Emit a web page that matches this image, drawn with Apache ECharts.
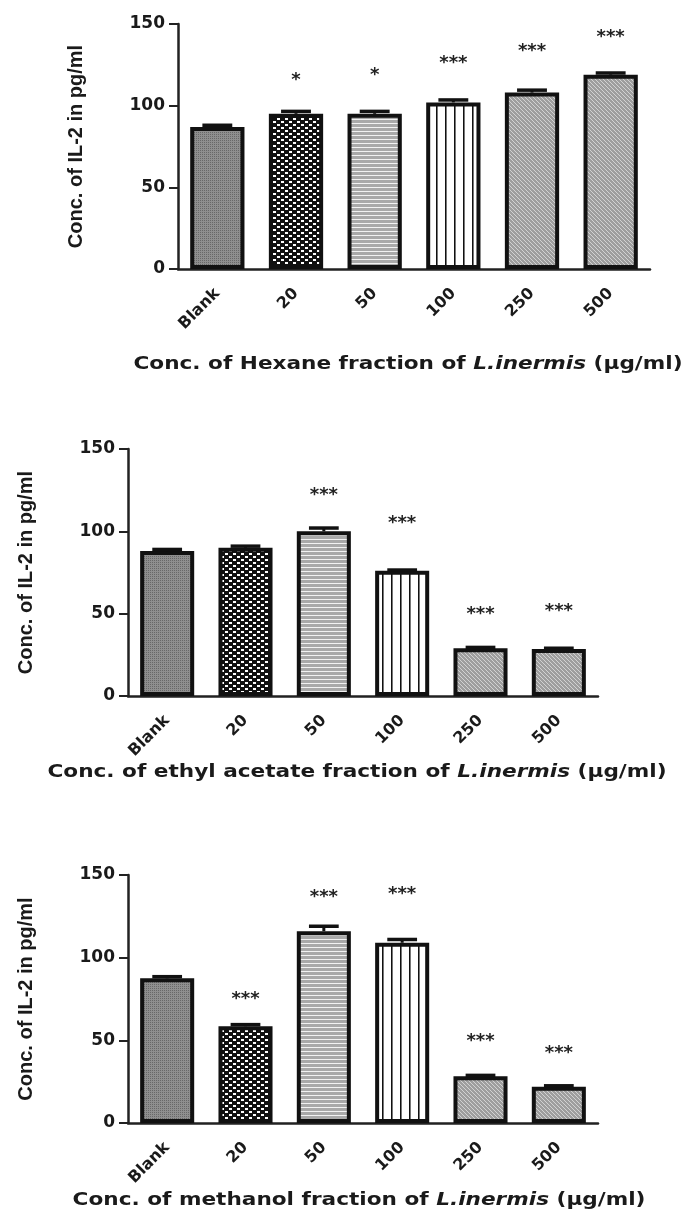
<!DOCTYPE html>
<html>
<head>
<meta charset="utf-8">
<script src="https://cdn.jsdelivr.net/npm/echarts@6/dist/echarts.min.js"></script>
<style>
html,body{margin:0;padding:0;background:#fff;}
#chart{width:683px;height:1211px;}
</style>
</head>
<body>
<div id="chart"></div>
<script>
// ---------- DATA ----------
const categories = ['Blank', '20', '50', '100', '250', '500'];
const yTicks = [0, 50, 100, 150];

const hexaneMeans = [87, 95, 95, 102, 108, 119];
const hexaneErr   = [1, 1.5, 1.5, 1.5, 1.5, 1];
const hexaneStars = ['', '*', '*', '***', '***', '***'];
const hexaneStarY = [null, 118, 121, 128.5, 135.5, 144];

const ethylMeans = [88, 90, 100, 76, 29, 28.5];
const ethylErr   = [1, 1, 2, 0.5, 0.5, 0.5];
const ethylStars = ['', '', '***', '***', '***', '***'];
const ethylStarY = [null, null, 124.5, 107, 52, 54];

const methanolMeans = [87.5, 58.5, 116, 109, 28.3, 22];
const methanolErr   = [1, 1, 3, 2, 0.5, 0.5];
const methanolStars = ['', '***', '***', '***', '***', '***'];
const methanolStarY = [null, 77, 139, 140.5, 51.7, 44.6];

const yName = 'Conc. of IL-2 in pg/ml';
const xNames = [
  ['Conc. of Hexane fraction of ', 'L.inermis', ' (µg/ml)'],
  ['Conc. of ethyl acetate fraction of ', 'L.inermis', ' (µg/ml)'],
  ['Conc. of methanol fraction of ', 'L.inermis', ' (µg/ml)']
];

// ---------- PATTERNS ----------
function makeCanvas(w, h, draw) {
  const c = document.createElement('canvas');
  c.width = w; c.height = h;
  const ctx = c.getContext('2d');
  draw(ctx);
  return c;
}
const patBlank = makeCanvas(4, 4, ctx => {
  ctx.fillStyle = '#8f8f8f'; ctx.fillRect(0, 0, 4, 4);
  ctx.fillStyle = '#686868';
  ctx.fillRect(0, 0, 1, 1); ctx.fillRect(2, 2, 1, 1);
  ctx.fillRect(2, 0, 1, 1); ctx.fillRect(0, 2, 1, 1);
});
const patCheck = makeCanvas(8, 6, ctx => {
  ctx.fillStyle = '#111'; ctx.fillRect(0, 0, 8, 6);
  ctx.fillStyle = '#fff';
  ctx.fillRect(1, 1, 3, 2); ctx.fillRect(5, 4, 3, 2);
});
const patHoriz = makeCanvas(4, 4, ctx => {
  ctx.fillStyle = '#a9a9a9'; ctx.fillRect(0, 0, 4, 4);
  ctx.fillStyle = '#f2f2f2'; ctx.fillRect(0, 3, 4, 1);
});
const patVert = makeCanvas(9, 4, ctx => {
  ctx.fillStyle = '#fff'; ctx.fillRect(0, 0, 9, 4);
  ctx.fillStyle = '#111'; ctx.fillRect(4, 0, 1, 4);
  ctx.fillStyle = '#777'; ctx.fillRect(5, 0, 1, 4);
});
const patDiag = makeCanvas(4, 4, ctx => {
  ctx.fillStyle = '#9e9e9e'; ctx.fillRect(0, 0, 4, 4);
  ctx.fillStyle = '#d2d2d2';
  for (let i = 0; i < 4; i++) ctx.fillRect(i, i, 1, 1);
});
const patterns = [patBlank, patCheck, patHoriz, patVert, patDiag, patDiag]
  .map(c => ({ image: c, repeat: 'repeat' }));

// ---------- CHART ----------
const chart = echarts.init(document.getElementById('chart'), null, { renderer: 'canvas' });

const grids = [
  { left: 178, top: 24, width: 472, height: 245 },
  { left: 128, top: 449, width: 470, height: 247 },
  { left: 128, top: 875, width: 470, height: 248 }
];
// x-title text placement (centre points)
const xTitlePos = [[408, 364], [357, 772], [359, 1200]];
const FONT = 'DejaVu Sans';
const TXT = '#1a1a1a';

const panels = [
  { means: hexaneMeans, err: hexaneErr, stars: hexaneStars, starY: hexaneStarY },
  { means: ethylMeans, err: ethylErr, stars: ethylStars, starY: ethylStarY },
  { means: methanolMeans, err: methanolErr, stars: methanolStars, starY: methanolStarY }
];

const xAxes = [], yAxes = [], series = [], graphics = [];
panels.forEach((p, k) => {
  xAxes.push({
    type: 'category', gridIndex: k, data: categories,
    boundaryGap: true,
    axisLine: { lineStyle: { color: '#222', width: 2.5 } },
    axisTick: { alignWithLabel: true, length: 6, lineStyle: { color: '#222', width: 2 } },
    axisLabel: { rotate: 45, fontFamily: FONT, fontWeight: 'bold', fontSize: 16, color: TXT, margin: 22 }
  });
  yAxes.push({
    type: 'value', gridIndex: k, min: yTicks[0], max: yTicks[yTicks.length - 1],
    interval: yTicks[1] - yTicks[0],
    splitLine: { show: false },
    axisLine: { show: true, lineStyle: { color: '#222', width: 2.5 } },
    axisTick: { show: true, length: 9, lineStyle: { color: '#222', width: 2 } },
    axisLabel: { fontFamily: FONT, fontWeight: 'bold', fontSize: 17, color: TXT, margin: 13 },
    name: yName, nameLocation: 'middle', nameGap: 92, nameRotate: 90,
    nameTextStyle: { fontFamily: 'Liberation Sans', fontWeight: 'bold', fontSize: 20, color: TXT }
  });
  series.push({
    type: 'bar', xAxisIndex: k, yAxisIndex: k, barWidth: '69%',
    data: p.means.map((v, i) => ({ value: v, itemStyle: { color: patterns[i] } })),
    itemStyle: { borderColor: '#111', borderWidth: 4 },
    emphasis: { disabled: true }, z: 2
  });
  series.push({
    type: 'custom', xAxisIndex: k, yAxisIndex: k, z: 3,
    data: p.means.map((v, i) => [i, v, p.err[i]]),
    renderItem: function (params, api) {
      const x = api.value(0), y = api.value(1), e = api.value(2);
      const p0 = api.coord([x, y]);
      const p1 = api.coord([x, y + e]);
      const hw = api.size([1, 0])[0] * 0.19;
      return {
        type: 'group', children: [
          { type: 'line', shape: { x1: p0[0], y1: p0[1], x2: p1[0], y2: p1[1] }, style: { stroke: '#111', lineWidth: 3 } },
          { type: 'line', shape: { x1: p1[0] - hw, y1: p1[1], x2: p1[0] + hw, y2: p1[1] }, style: { stroke: '#111', lineWidth: 3.5 } }
        ]
      };
    }
  });
  series.push({
    type: 'custom', xAxisIndex: k, yAxisIndex: k, z: 4,
    data: p.starY.map((v, i) => [i, v, i]).filter(d => d[1] != null),
    renderItem: function (params, api) {
      const pt = api.coord([api.value(0), api.value(1)]);
      const txt = p.stars[api.value(2)];
      return {
        type: 'text',
        style: {
          text: txt, x: pt[0], y: pt[1] + 4,
          textAlign: 'center', textVerticalAlign: 'middle',
          font: 'bold 18px "DejaVu Sans"', fill: '#222'
        }
      };
    }
  });
  graphics.push({
    type: 'text',
    x: xTitlePos[k][0], y: xTitlePos[k][1],
    scaleX: 1.2, scaleY: 1,
    style: {
      text: '{n|' + xNames[k][0] + '}{i|' + xNames[k][1] + '}{n|' + xNames[k][2] + '}',
      align: 'center', verticalAlign: 'middle',
      rich: {
        n: { fontFamily: FONT, fontWeight: 'bold', fontSize: 18, fill: TXT, color: TXT },
        i: { fontFamily: FONT, fontWeight: 'bold', fontStyle: 'italic', fontSize: 18, fill: TXT, color: TXT }
      }
    }
  });
});

chart.setOption({
  animation: false,
  backgroundColor: '#fff',
  grid: grids,
  xAxis: xAxes,
  yAxis: yAxes,
  series: series,
  graphic: graphics
});
</script>
</body>
</html>
